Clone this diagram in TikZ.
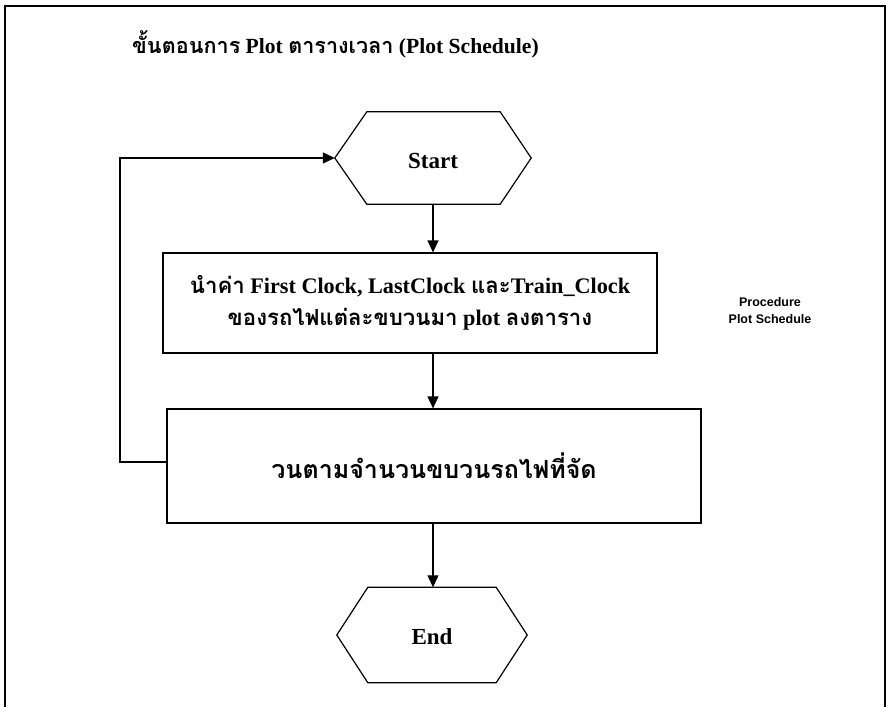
\documentclass[tikz,border=0pt]{standalone}
\usepackage{fontspec}
\setmainfont{Liberation Serif}
\newfontfamily\thai[Script=Thai]{Loma}
\newfontfamily\arialb{Liberation Sans}
\usetikzlibrary{arrows.meta}
\tikzset{
  line/.style={line width=1.2pt},
  arr/.style={line width=1.2pt,-{Triangle[length=12pt,width=11pt]}},
  box/.style={draw,line width=1.2pt,align=center,inner sep=0pt},
  hexnode/.style={inner sep=0pt,draw=none},
  hextext/.style={font=\fontsize{23}{26}\selectfont\bfseries},
}
\begin{document}
\begin{tikzpicture}[x=1pt,y=-1pt]
\useasboundingbox (0,0) rectangle (887,707);
% frame
\draw[line width=2pt] (5,707) -- (5,6) -- (885,6) -- (885,707);
% title
\node[anchor=west,inner sep=0pt,font=\fontsize{21.6}{26}\selectfont\bfseries] (title) at (132,44)
  {{\thai ขั้นตอนการ} Plot {\thai ตารางเวลา} (Plot Schedule)};
% start
\node[hexnode,minimum width=196pt,minimum height=92pt] (s) at (433,158) {};
\draw[line] (s.west) -- ([xshift=32pt]s.north west) -- ([xshift=-31pt]s.north east) -- (s.east)
  -- ([xshift=-31pt]s.south east) -- ([xshift=32pt]s.south west) -- cycle;
\node[hextext] (stxt) at (433,161) {Start};
% box1
\node[box,minimum width=494pt,minimum height=100pt,font=\fontsize{22.2}{32}\selectfont\bfseries] (b1) at (410,303)
  {{\thai นำค่า} First Clock, LastClock {\thai และ}Train\_Clock\\{\thai ของรถไฟแต่ละขบวนมา} plot {\thai ลงตาราง}};
% side label
\node[align=center,inner sep=0pt,font=\arialb\fontsize{12.5}{17}\selectfont\bfseries] (lab) at (770,311)
  {Procedure\\Plot Schedule};
% box2
\node[box,minimum width=534pt,minimum height=114pt,font=\fontsize{25}{28}\selectfont\bfseries] (b2) at (434,466)
  {\thai วนตามจำนวนขบวนรถไฟที่จัด};
% end
\node[hexnode,minimum width=190pt,minimum height=95pt] (e) at (432,635) {};
\draw[line] (e.west) -- ([xshift=31pt]e.north west) -- ([xshift=-31pt]e.north east) -- (e.east)
  -- ([xshift=-31pt]e.south east) -- ([xshift=31pt]e.south west) -- cycle;
\node[hextext] (etxt) at (432,637) {End};
% connectors
\draw[arr] (s.south -| 433,0) -- (b1.north -| 433,0);
\draw[arr] (b1.south -| 433,0) -- (b2.north -| 433,0);
\draw[arr] (b2.south -| 433,0) -- (e.north -| 433,0);
\coordinate (lp) at (120,462);
\draw[arr] (b2.west |- lp) -- (lp) |- (s.west);
\end{tikzpicture}
\end{document}
